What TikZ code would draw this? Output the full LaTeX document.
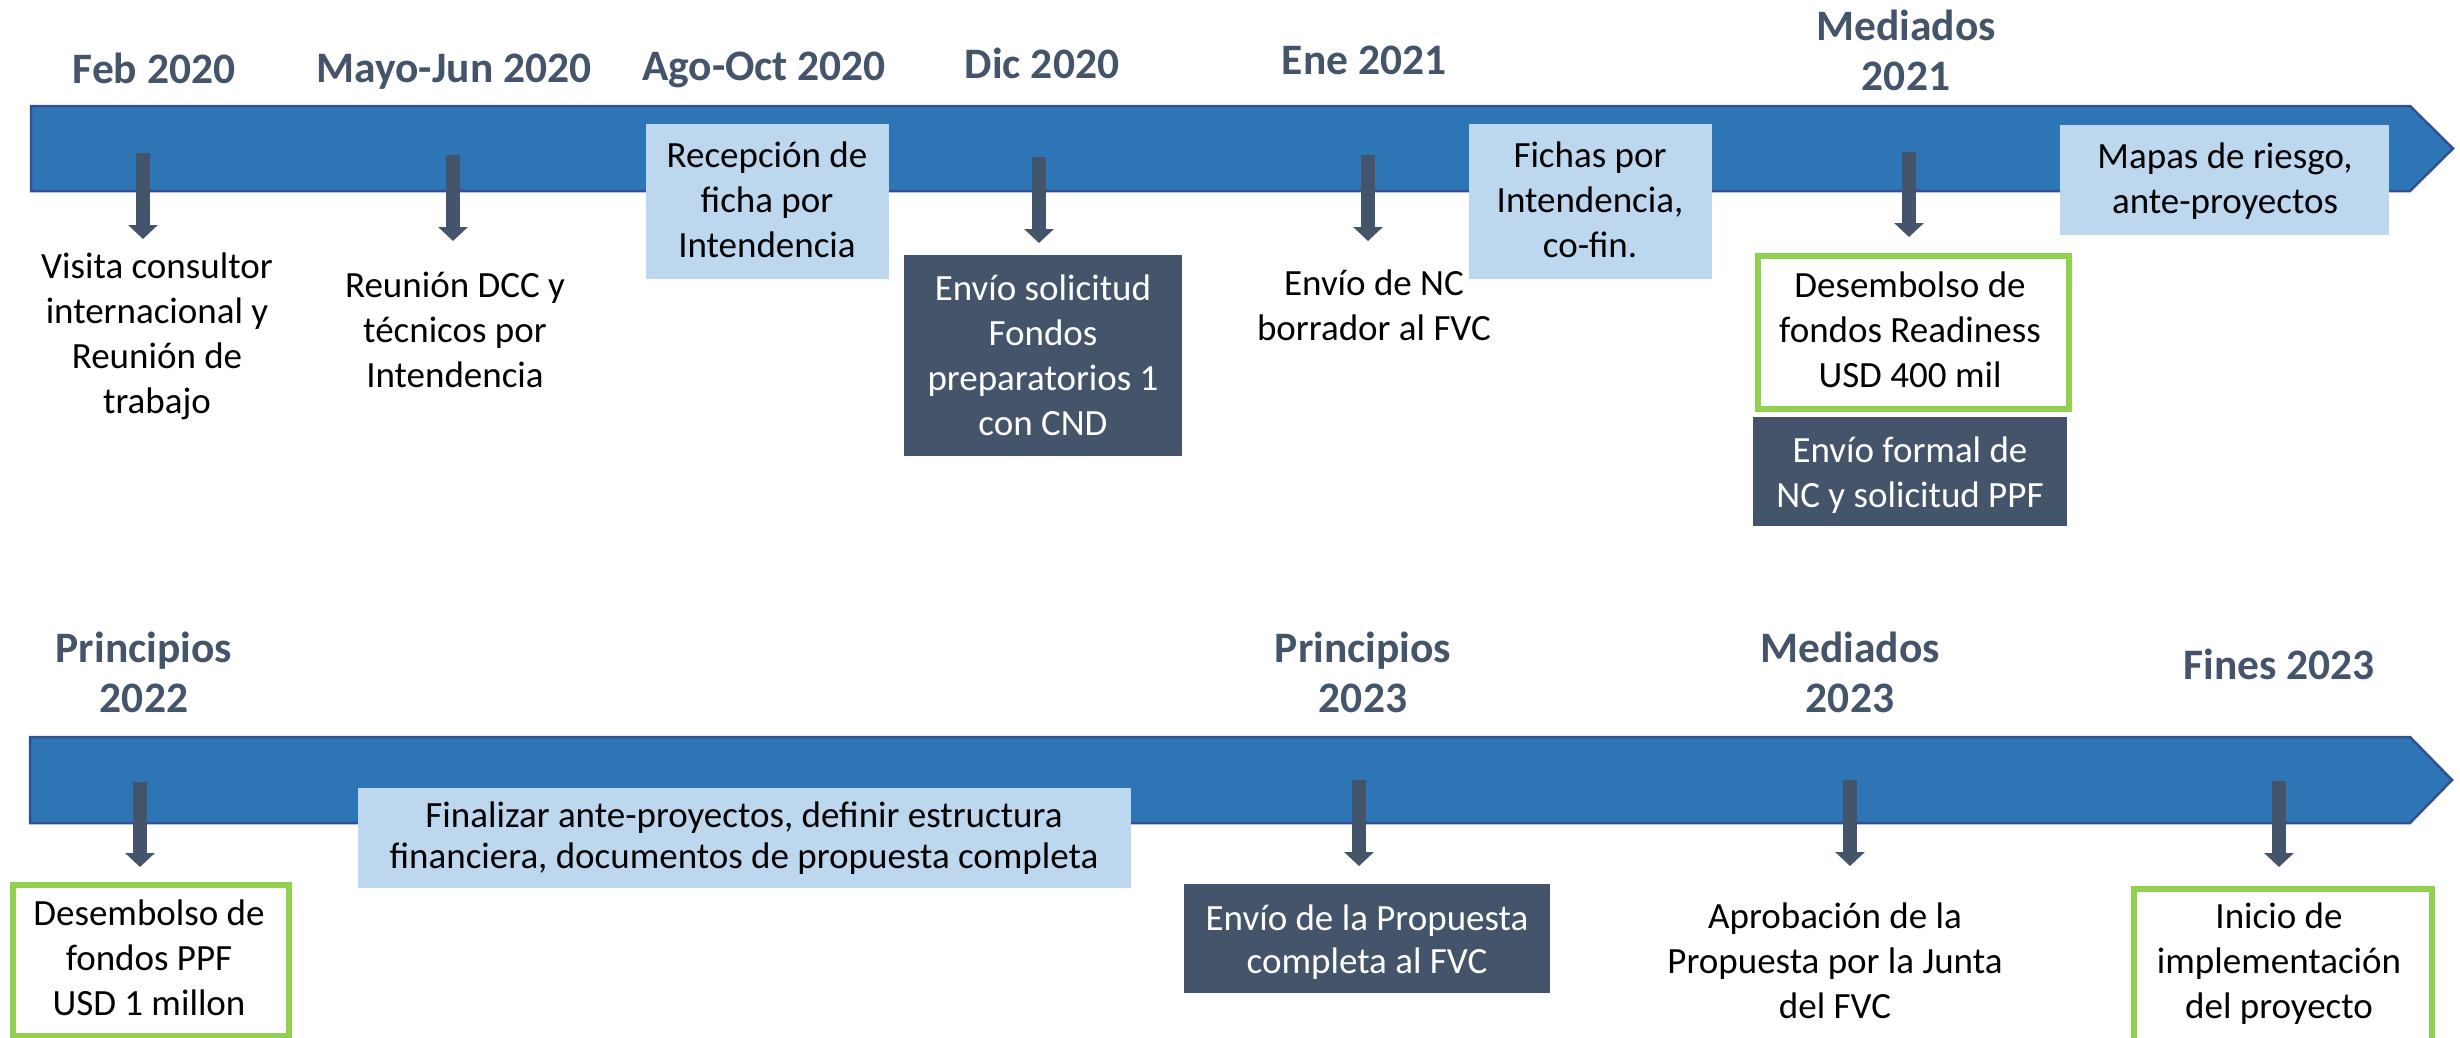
\documentclass[tikz,border=0pt]{standalone}
\usepackage{fontspec}
\setmainfont{Carlito}
\usetikzlibrary{arrows.meta}
\definecolor{bandfill}{HTML}{2E75B6}
\definecolor{bandedge}{HTML}{2F528F}
\definecolor{slate}{HTML}{44546A}
\definecolor{lblue}{HTML}{BDD7EE}
\definecolor{lgreen}{HTML}{92D050}
\newcommand{\mlines}[1]{\vtop{\halign{\hfil##\hfil\cr#1\crcr}}}
\tikzset{
  body/.style={font=\fontsize{37}{45}\selectfont, inner sep=0pt, anchor=base},
  whitebody/.style={body, text=white},
  datelab/.style={font=\fontsize{43.5}{50}\selectfont\bfseries, text=slate, inner sep=0pt, anchor=base},
  lightbox/.style={fill=lblue, draw=none, inner sep=0pt, anchor=north west},
  darkbox/.style={fill=slate, draw=none, inner sep=0pt, anchor=north west},
  greenbox/.style={fill=white, draw=lgreen, line width=6pt, inner sep=0pt, anchor=north west},
  downarrow/.style={draw=slate, line width=14pt, -{Triangle[width=29pt,length=14pt]}},
  band/.style={fill=bandfill, draw=bandedge, line width=2.5pt}
}
\begin{document}
\begin{tikzpicture}[x=1pt,y=-1pt]
\useasboundingbox (0,0) rectangle (2460,1037);
% timeline bands
\filldraw[band] (31,106) -- (2410,106) -- (2453,148.5) -- (2410,191) -- (31,191) -- cycle;
\filldraw[band] (30,737) -- (2410,737) -- (2452,780) -- (2410,823) -- (30,823) -- cycle;

% top date labels
\node[datelab] (d1) at (154,83) {Feb 2020};
\node[datelab] (d2) at (454,82) {Mayo-Jun 2020};
\node[datelab] (d3) at (764,80) {Ago-Oct 2020};
\node[datelab] (d4) at (1042,78) {Dic 2020};
\node[datelab] (d5) at (1364,74) {Ene 2021};
\node[datelab] (d6) at (1906,40) {\mlines{Mediados\cr 2021}};

% bottom date labels
\node[datelab] (e1) at (144,662) {\mlines{Principios\cr 2022}};
\node[datelab] (e2) at (1363,662) {\mlines{Principios\cr 2023}};
\node[datelab] (e3) at (1850,662) {\mlines{Mediados\cr 2023}};
\node[datelab] (e4) at (2279,679) {Fines 2023};

% boxes (top)
\node[lightbox, minimum width=243pt, minimum height=155pt] (recepbox) at (646,124) {};
\node[darkbox, minimum width=278pt, minimum height=201pt] (dicbox) at (904,255) {};
\node[lightbox, minimum width=243pt, minimum height=155pt] (fichasbox) at (1469,124) {};
\node[greenbox, minimum width=311pt, minimum height=153pt] (desbox) at (1755,253) {};
\node[darkbox, minimum width=314pt, minimum height=109pt] (formalbox) at (1753,417) {};
\node[lightbox, minimum width=329pt, minimum height=110pt] (mapasbox) at (2060,125) {};

% boxes (bottom)
\node[greenbox, minimum width=276pt, minimum height=151pt] (ppfbox) at (10,882) {};
\node[lightbox, minimum width=773pt, minimum height=100pt] (finbox) at (358,788) {};
\node[darkbox, minimum width=366pt, minimum height=109pt] (propbox) at (1184,884) {};
\node[greenbox, minimum width=298pt, minimum height=250pt] (iniciobox) at (2131,886) {};

% arrows (top)
\coordinate (a1s) at (143,153); \coordinate (a1e) at (143,239);
\coordinate (a2s) at (453,155); \coordinate (a2e) at (453,241);
\coordinate (a3s) at (1039,157); \coordinate (a3e) at (1039,243);
\coordinate (a4s) at (1368,155); \coordinate (a4e) at (1368,241);
\coordinate (a5s) at (1909,152); \coordinate (a5e) at (1909,237);
\draw[downarrow] (a1s) -- (a1e);
\draw[downarrow] (a2s) -- (a2e);
\draw[downarrow] (a3s) -- (a3e);
\draw[downarrow] (a4s) -- (a4e);
\draw[downarrow] (a5s) -- (a5e);

% arrows (bottom)
\coordinate (b1s) at (140,782); \coordinate (b1e) at (140,867);
\coordinate (b2s) at (1359,780); \coordinate (b2e) at (1359,866);
\coordinate (b3s) at (1850,780); \coordinate (b3e) at (1850,866);
\coordinate (b4s) at (2279,781); \coordinate (b4e) at (2279,867);
\draw[downarrow] (b1s) -- (b1e);
\draw[downarrow] (b2s) -- (b2e);
\draw[downarrow] (b3s) -- (b3e);
\draw[downarrow] (b4s) -- (b4e);

% texts (top)
\node[body] (t1) at (157,278) {\mlines{Visita consultor\cr internacional y\cr Reunión de\cr trabajo}};
\node[body] (t2) at (455,297) {\mlines{Reunión DCC y\cr técnicos por\cr Intendencia}};
\node[body] (t3) at (767,167) {\mlines{Recepción de\cr ficha por\cr Intendencia}};
\node[whitebody] (t4) at (1043,300) {\mlines{Envío solicitud\cr Fondos\cr preparatorios 1\cr con CND}};
\node[body] (t5) at (1374,295) {\mlines{Envío de NC\cr borrador al FVC}};
\node[body] (t6) at (1590,167) {\mlines{Fichas por\cr Intendencia,\cr co-fin.}};
\node[body] (t7) at (1910,297) {\mlines{Desembolso de\cr fondos Readiness\cr USD 400 mil}};
\node[whitebody] (t8) at (1910,462) {\mlines{Envío formal de\cr NC y solicitud PPF}};
\node[body] (t9) at (2225,168) {\mlines{Mapas de riesgo,\cr ante-proyectos}};

% texts (bottom)
\node[body] (u1) at (149,925) {\mlines{Desembolso de\cr fondos PPF\cr USD 1 millon}};
\node[body, font=\fontsize{37}{41}\selectfont] (u2) at (744,827) {\mlines{Finalizar ante-proyectos, definir estructura\cr financiera, documentos de propuesta completa}};
\node[whitebody, font=\fontsize{37}{43}\selectfont] (u3) at (1367,930) {\mlines{Envío de la Propuesta\cr completa al FVC}};
\node[body] (u4) at (1835,928) {\mlines{Aprobación de la\cr Propuesta por la Junta\cr del FVC}};
\node[body] (u5) at (2279,928) {\mlines{Inicio de\cr implementación\cr del proyecto}};
\end{tikzpicture}
\end{document}
